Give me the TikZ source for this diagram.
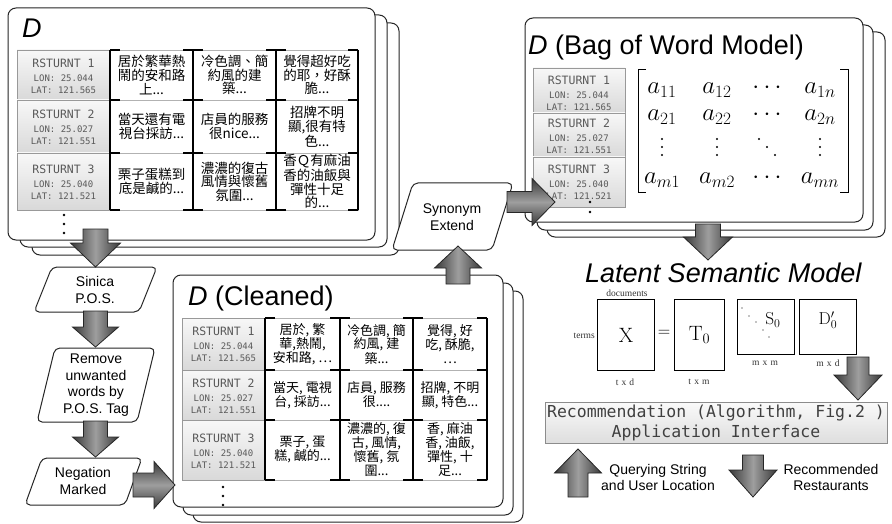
\documentclass[tikz,border=0pt]{standalone}
\usepackage[no-math]{fontspec}
\setmainfont{Liberation Sans}
\newfontfamily\cjk{Noto Sans CJK TC}
\newfontfamily\monof{DejaVu Sans Mono}
\newfontfamily\seriff{Liberation Serif}
\usetikzlibrary{calc}

\tikzset{
  card/.style={draw=black!85, line width=1pt, fill=white, rounded corners=8pt},
  rbox/.style={draw=black!40, top color=black!3, bottom color=black!15},
  rsttext/.style={align=center, inner sep=0pt, text=black!65, font=\monof\fontsize{9}{12}\selectfont},
  cellA/.style={align=center, inner sep=0pt, font=\cjk\fontsize{13.5}{13.6}\selectfont},
  cellB/.style={align=center, inner sep=0pt, font=\cjk\fontsize{13}{14}\selectfont},
  gridg/.style={draw=black!30, line width=0.6pt},
  tickl/.style={draw=black, line width=1.1pt},
  title/.style={anchor=base west, inner sep=0pt, font=\fontsize{27}{30}\selectfont},
  para/.style={draw=black!85, line width=1pt, fill=white, rounded corners=5pt},
  ptext/.style={align=center, inner sep=0pt, font=\fontsize{14}{16.5}\selectfont},
  vshade/.style={left color=black!78, right color=black!78, middle color=black!38, draw=black!85, line width=0.8pt},
  hshade/.style={top color=black!78, bottom color=black!78, middle color=black!38, draw=black!85, line width=0.8pt},
  mtx/.style={inner sep=0pt, font=\fontsize{24}{24}\selectfont},
  lbox/.style={draw=black, line width=1.1pt, inner sep=0pt, font=\fontsize{20}{20}\selectfont},
  lsmall/.style={inner sep=0pt, text=black!80, font=\seriff\fontsize{9.5}{9.5}\selectfont},
  recbox/.style={draw=black!45, top color=black!2, bottom color=black!13, minimum width=342pt, minimum height=41pt, align=center, inner sep=0pt, text=black!75, font=\monof\fontsize{16.5}{20}\selectfont},
}

% block arrow: [style]{tail}{tip}{shaft half}{head half}{head length}
\newcommand{\barrow}[6][]{%
  \coordinate (bhx) at ($(#3)!#6pt!(#2)$);
  \shadedraw[#1] ($(#2)!#4pt!90:(#3)$) -- ($(bhx)!#4pt!90:(#3)$) -- ($(bhx)!#5pt!90:(#3)$) -- (#3) -- ($(bhx)!#5pt!-90:(#3)$) -- ($(bhx)!#4pt!-90:(#3)$) -- ($(#2)!#4pt!-90:(#3)$) -- cycle;
}
% restaurant box: name, x1, y1, x2, y2, text y, number, lon, lat
\newcommand{\rst}[9]{%
  \shadedraw[rbox] (#2,#3) rectangle (#4,#5);
  \node[rsttext] (#1) at ({(#2+#4)/2},#6) {{\fontsize{11.5}{12}\selectfont RSTURNT #7}\\[2pt]LON: #8\\LAT: #9};
}

\begin{document}
\begin{tikzpicture}[x=1pt,y=-1pt]
\useasboundingbox (0,0) rectangle (892,524);

% ---------------- Panel D ----------------
\draw[card] (32,23) rectangle (399,255);
\draw[card] (20,15) rectangle (387,247);
\draw[card] (8,8) rectangle (375,240);
\node[title] (t1) at (22,38) {\itshape D};
\rst{r1}{17}{50}{110}{100}{76}{1}{25.044}{121.565}
\rst{r2}{17}{100}{110}{153}{127}{2}{25.027}{121.551}
\rst{r3}{17}{153}{110}{210}{182}{3}{25.040}{121.521}
\draw[gridg] (110,50) rectangle (358,210);
\foreach \y in {100,153} \draw[gridg] (110,\y) -- (358,\y);
\foreach \x in {110,193,276,358} \draw[tickl] (\x,50) -- (\x,210);
\foreach \x/\l/\r in {110/0/10, 193/10/10, 276/10/10, 358/10/0}
  \foreach \y in {50,100,153,210} \draw[tickl] (\x-\l,\y) -- (\x+\r,\y);
\node[cellA] (c11) at (151.5,75) {居於繁華熱\\鬧的安和路\\上...};
\node[cellA] (c12) at (234.5,75) {冷色調、簡\\約風的建\\築...};
\node[cellA] (c13) at (317,75) {覺得超好吃\\的耶，好酥\\脆...};
\node[cellA] (c21) at (151.5,126.5) {當天還有電\\視台採訪...};
\node[cellA] (c22) at (234.5,126.5) {店員的服務\\很nice...};
\node[cellA] (c23) at (317,126.5) {招牌不明\\顯,很有特\\色...};
\node[cellA] (c31) at (151.5,181.5) {栗子蛋糕到\\底是鹹的...};
\node[cellA] (c32) at (234.5,181.5) {濃濃的復古\\風情與懷舊\\氛圍...};
\node[cellA] (c33) at (317,181.5) {香Ｑ有麻油\\香的油飯與\\彈性十足\\的...};
\foreach \y in {215,224,233} \fill (64,\y) circle[radius=1.4pt];

% ---------------- Panel D (Bag of Word Model) ----------------
\draw[card] (547,32) rectangle (885,237);
\draw[card] (537,25) rectangle (873,230);
\draw[card] (525,18) rectangle (863,222);
\node[title] (t2) at (528,55) {{\itshape D} (Bag of Word Model)};
\rst{b1}{533}{68}{625}{113}{93}{1}{25.044}{121.565}
\rst{b2}{533}{113}{625}{157}{136}{2}{25.027}{121.551}
\rst{b3}{533}{157}{625}{207}{182}{3}{25.040}{121.521}
\foreach \y in {202,212} \fill (590,\y) circle[radius=1.4pt];
\draw[line width=1pt] (646,70) -- (638,70) -- (638,193) -- (646,193);
\draw[line width=1pt] (840,70) -- (848,70) -- (848,193) -- (840,193);
\node[mtx] (m11) at (662,90) {$a_{11}$};
\node[mtx] (m12) at (717,90) {$a_{12}$};
\node[mtx] (m13) at (767,88) {$\cdots$};
\node[mtx] (m14) at (820,90) {$a_{1n}$};
\node[mtx] (m21) at (662,117) {$a_{21}$};
\node[mtx] (m22) at (717,117) {$a_{22}$};
\node[mtx] (m23) at (767,115) {$\cdots$};
\node[mtx] (m24) at (820,117) {$a_{2n}$};
% vertical and diagonal dots of the matrix
\foreach \x in {662,717,820} \foreach \y in {139,147,155} \fill (\x,\y) circle[radius=1.2pt];
\foreach \x/\y in {759/139,767/147,775/155} \fill (\x,\y) circle[radius=1.2pt];
\node[mtx] (m41) at (662,180) {$a_{m1}$};
\node[mtx] (m42) at (717,180) {$a_{m2}$};
\node[mtx] (m43) at (767,178) {$\cdots$};
\node[mtx] (m44) at (820,180) {$a_{mn}$};

% ---------------- Panel D (Cleaned) ----------------
\draw[card] (193,291) rectangle (523,522);
\draw[card] (183,283) rectangle (513,515);
\draw[card] (173,275) rectangle (503,507);
\node[title] (t3) at (188,305) {{\itshape D} (Cleaned)};
\rst{k1}{182}{318}{265}{370}{344}{1}{25.044}{121.565}
\rst{k2}{182}{370}{265}{420}{396}{2}{25.027}{121.551}
\rst{k3}{182}{420}{265}{480}{451}{3}{25.040}{121.521}
\draw[gridg] (265,318) rectangle (487,480);
\foreach \y in {370,420} \draw[gridg] (265,\y) -- (487,\y);
\foreach \x in {265,340,413,487} \draw[tickl] (\x,318) -- (\x,480);
\foreach \x/\l/\r in {265/0/10, 340/10/10, 413/10/10, 487/10/0}
  \foreach \y in {318,370,420,480} \draw[tickl] (\x-\l,\y) -- (\x+\r,\y);
\node[cellB] (d11) at (302.5,344) {居於, 繁\\華,熱鬧,\\安和路, …};
\node[cellB] (d12) at (376.5,344) {冷色調, 簡\\約風, 建\\築...};
\node[cellB] (d13) at (450,344) {覺得, 好\\吃, 酥脆,\\…};
\node[cellB] (d21) at (302.5,395) {當天, 電視\\台, 採訪...};
\node[cellB] (d22) at (376.5,395) {店員, 服務\\很....};
\node[cellB] (d23) at (450,395) {招牌, 不明\\顯, 特色...};
\node[cellB] (d31) at (302.5,450) {栗子, 蛋\\糕, 鹹的...};
\node[cellB] (d32) at (376.5,450) {濃濃的, 復\\古, 風情,\\懷舊, 氛\\圍...};
\node[cellB] (d33) at (450,450) {香, 麻油\\香, 油飯,\\彈性, 十\\足...};
\foreach \y in {487,496,505} \fill (223,\y) circle[radius=1.4pt];

% ---------------- Process boxes ----------------
\draw[para] (52,267) -- (157,267) -- (139,312) -- (34,312) -- cycle;
\node[ptext] (sinica) at (95,290) {Sinica\\P.O.S.};
\draw[para] (55,348) -- (155,348) -- (137,422) -- (37,422) -- cycle;
\node[ptext] (remove) at (96,385) {Remove\\unwanted\\words by\\P.O.S. Tag};
\draw[para] (42,458) -- (142,458) -- (125,505) -- (25,505) -- cycle;
\node[ptext] (negation) at (83,481) {Negation\\Marked};
\draw[para] (413,183) -- (513,183) -- (492,250) -- (392,250) -- cycle;
\node[ptext] (synonym) at (452,217) {Synonym\\Extend};

% ---------------- Latent Semantic Model ----------------
\node[title] (t4) at (585,282) {\itshape Latent Semantic Model};
\node[lsmall] (ldoc) at (627,293) {documents};
\node[lsmall, anchor=east] (lterms) at (595,336) {terms};
\node[lbox, minimum width=57pt, minimum height=71pt, anchor=north west] (Xb) at (597,299) {$\mathrm{X}$};
\node[inner sep=0pt, font=\fontsize{16}{16}\selectfont] (eq) at (664,333) {$=$};
\node[lbox, minimum width=50pt, minimum height=71pt, anchor=north west] (Tb) at (674,299) {$\mathrm{T}_0$};
\node[lbox, minimum width=57pt, minimum height=55pt, anchor=north west] (Sb) at (737,299) {};
\node[inner sep=0pt, font=\fontsize{18}{18}\selectfont] (Sl) at (773,320) {$\mathrm{S}_0$};
\foreach \p in {(742,308),(749,316),(756,322),(763,330),(769,337)} \fill \p circle[radius=0.6pt];
\node[lbox, minimum width=57pt, minimum height=55pt, anchor=north west] (Db) at (799,299) {};
\node[inner sep=0pt, font=\fontsize{18}{18}\selectfont] (Dl) at (828,320) {$\mathrm{D}'_0$};
\node[lsmall] (ltd) at (625,382) {t\,\,x\,\,d};
\node[lsmall] (ltm) at (699,382) {t\,\,x\,\,m};
\node[lsmall] (lmm) at (765,363) {m\,\,x\,\,m};
\node[lsmall] (lmd) at (828,363) {m\,\,x\,\,d};

% ---------------- Recommendation ----------------
\node[recbox] (rec) at (716,422.5) {Recommendation (Algorithm, Fig.2 )\\Application Interface};
\node[ptext, font=\fontsize{14}{16}\selectfont] (query) at (658,477) {Querying String\\and User Location};
\node[ptext, font=\fontsize{14}{16}\selectfont] (result) at (831,477) {Recommended\\Restaurants};

% ---------------- Block arrows ----------------
\coordinate (a1s) at (95.5,229);  \coordinate (a1e) at (95.5,267);
\coordinate (a2s) at (95.5,311);  \coordinate (a2e) at (95.5,347);
\coordinate (a3s) at (95.5,421);  \coordinate (a3e) at (95.5,457);
\coordinate (a4s) at (133,485);   \coordinate (a4e) at (175,485);
\coordinate (a5s) at (458,284);   \coordinate (a5e) at (458,246);
\coordinate (a6s) at (507,202);   \coordinate (a6e) at (555,202);
\coordinate (a7s) at (708,224);   \coordinate (a7e) at (708,260);
\coordinate (a8s) at (858,357);   \coordinate (a8e) at (858,400);
\coordinate (a9s) at (578,497);   \coordinate (a9e) at (578,449);
\coordinate (a10s) at (753,455);  \coordinate (a10e) at (753,497);
\barrow[vshade]{a1s}{a1e}{12.5}{25}{24}
\barrow[vshade]{a2s}{a2e}{12}{23}{20}
\barrow[vshade]{a3s}{a3e}{12}{23}{20}
\barrow[hshade]{a4s}{a4e}{12}{23.5}{21}
\barrow[vshade]{a5s}{a5e}{12}{23.5}{22}
\barrow[hshade]{a6s}{a6e}{10.5}{23.5}{23}
\barrow[vshade]{a7s}{a7e}{12.5}{24.5}{23}
\barrow[vshade]{a8s}{a8e}{11}{24}{25}
\barrow[vshade]{a9s}{a9e}{10}{23.5}{24}
\barrow[vshade]{a10s}{a10e}{10.5}{24}{27}
\end{tikzpicture}
\end{document}
